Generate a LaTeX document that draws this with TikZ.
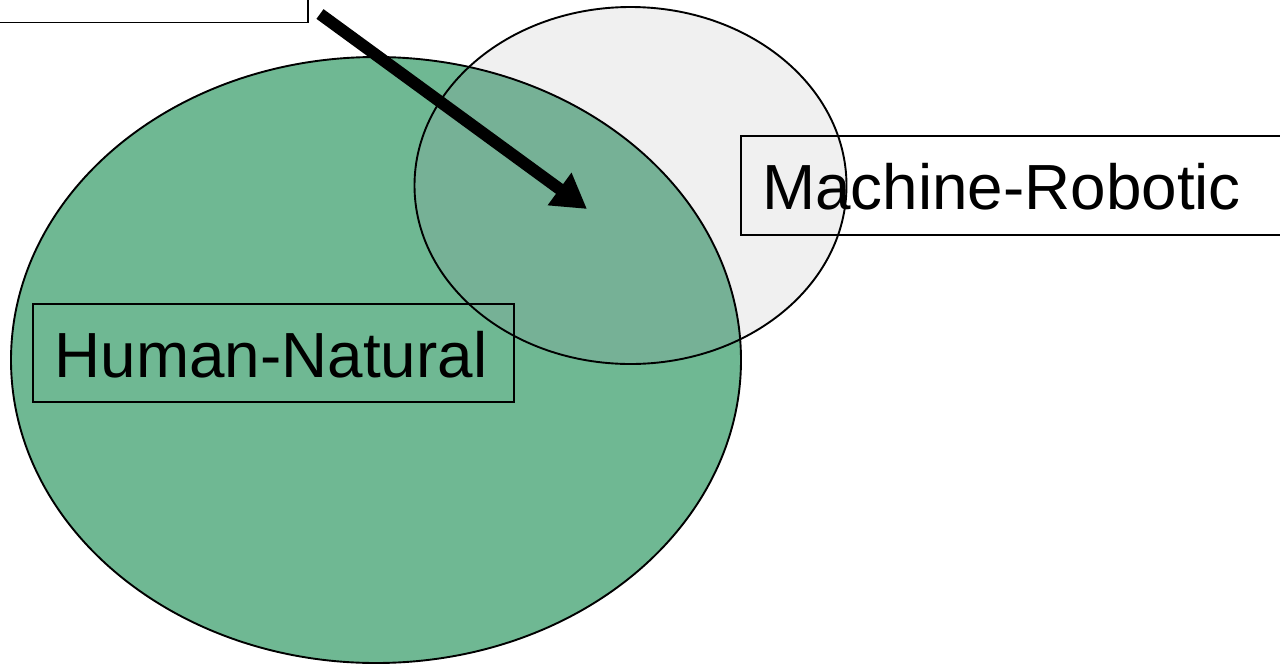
\documentclass[tikz,border=0pt]{standalone}
\usepackage{fontspec}
\setmainfont{Liberation Sans}
\usetikzlibrary{arrows.meta,shapes.geometric}
\definecolor{greenfill}{RGB}{111,184,147}
\definecolor{greyfill}{RGB}{240,240,240}
\definecolor{overlapfill}{RGB}{118,177,150}
\tikzset{
  outline/.style={draw=black, line width=1.9pt},
  labelbox/.style={rectangle, draw=black, line width=1.9pt, inner sep=0pt},
  labeltext/.style={inner sep=0pt, anchor=base west, font=\fontsize{63.8}{76}\selectfont},
  bigarrow/.style={line width=12pt, -{Triangle[length=34pt,width=38pt]}}
}
\begin{document}
\begin{tikzpicture}[x=1pt,y=-1pt]
\useasboundingbox (0,0) rectangle (1280,665);
\clip (0,0) rectangle (1280,665);
% fills
\fill[greenfill] (376,360) ellipse [x radius=365pt, y radius=303pt];
\fill[greyfill] (630.5,185.5) ellipse [x radius=216pt, y radius=178.5pt];
\begin{scope}
  \clip (376,360) ellipse [x radius=365pt, y radius=303pt];
  \fill[overlapfill] (630.5,185.5) ellipse [x radius=216pt, y radius=178.5pt];
\end{scope}
% outlines as named nodes
\node[ellipse, outline, inner sep=0pt, minimum width=730pt, minimum height=606pt] (human) at (376,360) {};
\node[ellipse, outline, inner sep=0pt, minimum width=432pt, minimum height=357pt] (machine) at (630.5,185.5) {};
% boxes
\node[labelbox, minimum width=480.7pt, minimum height=98pt] (hbox) at (273.7,353) {};
\node[labeltext] (htext) at (54.5,377) {Human-Natural};
\node[labelbox, minimum width=560pt, minimum height=99pt] (mbox) at (1021,185.5) {};
\node[labeltext] (mtext) at (762,209) {Machine-Robotic};
\node[labelbox, minimum width=330pt, minimum height=80pt] (topbox) at (143,-17.5) {};
% arrow
\coordinate (astart) at (320,14);
\coordinate (aend) at (587,209);
\draw[bigarrow] (astart) -- (aend);
\end{tikzpicture}
\end{document}
